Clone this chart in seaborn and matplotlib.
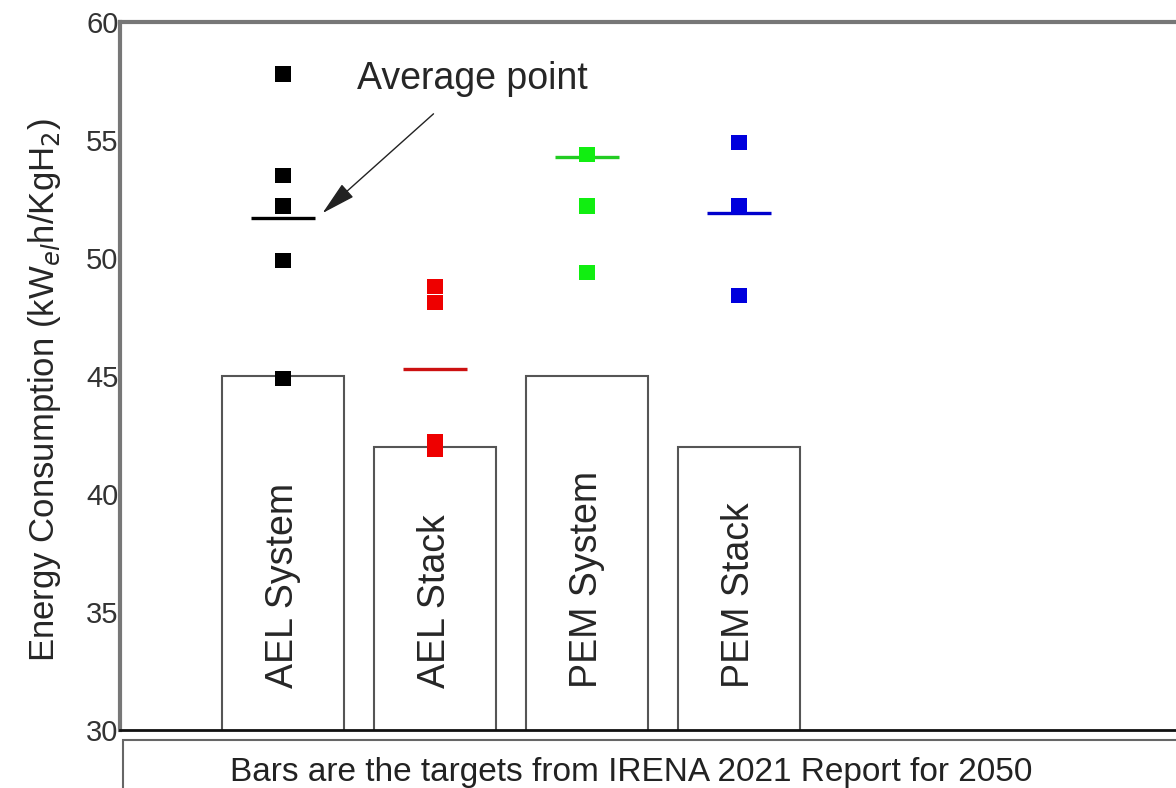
import matplotlib
matplotlib.use('Agg')
import matplotlib.pyplot as plt
import numpy as np
import pandas as pd
import seaborn as sns
from matplotlib.patches import Rectangle

# Datos
categories = ['AEL System', 'AEL Stack', 'PEM System', 'PEM Stack']
irena_targets = [45.0, 42.0, 45.0, 42.0]

ael_system = [57.8, 53.5, 52.2, 49.9, 44.9]
ael_stack = [48.8, 48.1, 42.2, 41.9]
pem_system = [54.4, 52.2, 49.4]
pem_stack = [54.9, 52.2, 48.4]
average_values = [51.7, 45.3, 54.3, 51.9]

point_colors = ['#000000', '#ee0000', '#11ee11', '#0000dd']
line_colors = ['#000000', '#cc1111', '#22cc22', '#0000cc']

sns.set_style('white')
plt.rcParams['font.family'] = ['Liberation Sans', 'DejaVu Sans']

bars_df = pd.DataFrame({'cat': categories, 'target': irena_targets})
points_df = pd.DataFrame({
    'cat': ['AEL System'] * len(ael_system) + ['AEL Stack'] * len(ael_stack)
           + ['PEM System'] * len(pem_system) + ['PEM Stack'] * len(pem_stack),
    'val': ael_system + ael_stack + pem_system + pem_stack,
})

fig = plt.figure(figsize=(11.76, 7.88), dpi=100)
ax = fig.add_axes([120 / 1176, 1 - 730 / 788, 1 - 120 / 1176, (730 - 22) / 788])

sns.barplot(data=bars_df, x='cat', y='target', order=categories, color='white',
            edgecolor='#555555', linewidth=1.5, width=0.8, ax=ax)
sns.stripplot(data=points_df, x='cat', y='val', order=categories, hue='cat',
              hue_order=categories, palette=point_colors, jitter=False,
              marker='s', size=11, linewidth=0, legend=False, ax=ax, zorder=5)

# líneas de promedio
for i, (avg, c) in enumerate(zip(average_values, line_colors)):
    ax.hlines(avg, i - 0.21, i + 0.21, colors=c, linewidth=2.4, zorder=4)

# etiquetas dentro de las barras
for i, cat in enumerate(categories):
    ax.text(i, 31.8, cat, rotation=90, ha='center', va='bottom', fontsize=27)

ax.annotate('Average point', xy=(0.26, 51.9), xytext=(0.49, 57.6),
            fontsize=27, ha='left', va='center',
            arrowprops=dict(arrowstyle='-|>,head_length=0.8,head_width=0.2',
                            color='#222222', lw=1.0, shrinkA=15, shrinkB=0))

ax.set_ylim(30, 60)
ax.set_xlim(-1.072, 5.875)
ax.set_yticks([30, 35, 40, 45, 50, 55, 60])
ax.tick_params(axis='y', length=0, pad=1, labelsize=21, labelcolor='#333333')
ax.set_xticks([])
ax.set_xlabel('')
ax.set_ylabel('Energy Consumption (kW$_{el}$h/KgH$_2$)', fontsize=25)
ax.yaxis.set_label_coords(-0.054, 0.48)

ax.spines['right'].set_visible(False)
ax.spines['left'].set_color('#777777')
ax.spines['left'].set_linewidth(3)
ax.spines['top'].set_color('#777777')
ax.spines['top'].set_linewidth(3)
ax.spines['bottom'].set_color('#111111')
ax.spines['bottom'].set_linewidth(2)

# recuadro de nota inferior
fig.patches.append(Rectangle((123 / 1176, -0.05), 1.0, 0.05 + (1 - 740 / 788),
                             transform=fig.transFigure, fill=False,
                             edgecolor='#666666', linewidth=1.5))
fig.text(631 / 1176, 1 - 772 / 788, 'Bars are the targets from IRENA 2021 Report for 2050',
         ha='center', va='center', fontsize=24, color='#222222')

fig.savefig('out.png', dpi=100)
